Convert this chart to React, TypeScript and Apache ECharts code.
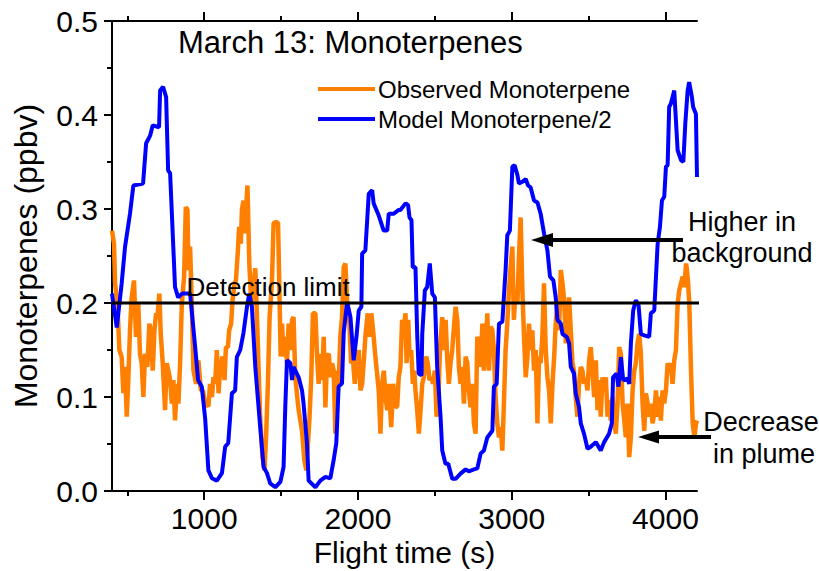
import React, { useEffect, useRef } from "react";
import * as echarts from "echarts";

const obsTime = [400,413,420,435,448,463,474,485,496,506,517,528,543,556,571,582,593,604,615,630,643,652,665,676,687,695,708,717,730,745,756,767,778,789,799,810,822,832,843,854,869,880,891,897,908,919,930,947,962,978,991,1006,1027,1038,1050,1060,1071,1082,1093,1104,1119,1132,1141,1154,1162,1175,1184,1197,1206,1219,1227,1238,1245,1255,1266,1273,1281,1293,1306,1321,1332,1343,1353,1364,1379,1392,1403,1414,1425,1440,1451,1467,1480,1488,1497,1506,1516,1527,1538,1549,1560,1571,1581,1592,1614,1636,1651,1664,1672,1685,1696,1707,1723,1734,1744,1755,1766,1777,1788,1799,1810,1820,1831,1842,1853,1864,1874,1885,1896,1907,1918,1929,1944,1955,1968,1979,1990,2005,2016,2027,2038,2048,2063,2076,2087,2102,2113,2124,2135,2146,2157,2168,2179,2190,2200,2216,2229,2244,2255,2265,2276,2287,2298,2309,2316,2327,2335,2346,2357,2366,2374,2385,2396,2407,2418,2428,2444,2454,2465,2478,2487,2500,2511,2522,2533,2548,2559,2570,2581,2591,2602,2613,2624,2635,2646,2656,2667,2678,2689,2700,2711,2721,2732,2743,2754,2765,2776,2787,2798,2809,2819,2830,2841,2852,2863,2874,2884,2895,2906,2917,2928,2939,2949,2960,2971,2982,2993,3004,3014,3025,3037,3047,3058,3069,3080,3091,3102,3112,3123,3134,3145,3156,3167,3178,3188,3199,3210,3221,3232,3243,3254,3265,3276,3286,3297,3308,3319,3330,3341,3352,3362,3373,3384,3395,3405,3416,3427,3438,3449,3460,3470,3481,3493,3503,3514,3525,3536,3547,3558,3569,3579,3590,3601,3612,3623,3634,3644,3655,3666,3677,3688,3699,3710,3721,3732,3742,3753,3764,3775,3786,3797,3807,3818,3829,3840,3851,3862,3873,3884,3894,3905,3916,3927,3938,3949,3959,3970,3981,3992,4003,4014,4024,4035,4046,4057,4068,4079,4090,4101,4112,4123,4134,4140,4147,4155,4166,4177,4188,4199,4205];
const obsValue = [0.277,0.263,0.221,0.2,0.15,0.1425,0.104,0.132,0.079,0.118,0.171,0.206,0.224,0.164,0.199,0.146,0.136,0.1,0.146,0.132,0.178,0.171,0.128,0.171,0.189,0.185,0.21,0.167,0.136,0.086,0.136,0.128,0.118,0.093,0.118,0.075,0.114,0.093,0.136,0.199,0.228,0.302,0.299,0.235,0.26,0.199,0.128,0.114,0.139,0.107,0.107,0.093,0.09,0.114,0.1,0.121,0.114,0.15,0.104,0.132,0.143,0.118,0.153,0.153,0.171,0.178,0.203,0.221,0.224,0.256,0.281,0.263,0.299,0.309,0.274,0.302,0.325,0.242,0.199,0.221,0.237,0.185,0.132,0.079,0.036,0.022,0.061,0.114,0.185,0.221,0.285,0.286,0.285,0.221,0.143,0.178,0.143,0.164,0.136,0.178,0.15,0.182,0.185,0.121,0.086,0.064,0.033,0.022,0.043,0.079,0.121,0.189,0.189,0.143,0.114,0.146,0.118,0.164,0.089,0.143,0.146,0.121,0.136,0.128,0.061,0.128,0.114,0.164,0.185,0.238,0.242,0.203,0.178,0.136,0.139,0.114,0.132,0.15,0.107,0.114,0.139,0.164,0.189,0.164,0.189,0.164,0.143,0.125,0.107,0.061,0.114,0.128,0.1,0.086,0.114,0.068,0.114,0.089,0.09,0.121,0.132,0.182,0.174,0.189,0.136,0.182,0.143,0.15,0.114,0.128,0.107,0.086,0.061,0.086,0.114,0.121,0.143,0.136,0.118,0.121,0.114,0.128,0.079,0.093,0.15,0.185,0.15,0.182,0.139,0.114,0.136,0.15,0.174,0.196,0.182,0.132,0.114,0.132,0.093,0.143,0.136,0.107,0.089,0.114,0.072,0.061,0.164,0.157,0.132,0.178,0.128,0.15,0.189,0.128,0.175,0.171,0.15,0.1,0.072,0.057,0.068,0.043,0.093,0.15,0.178,0.214,0.238,0.26,0.182,0.214,0.199,0.249,0.291,0.214,0.164,0.121,0.143,0.178,0.15,0.171,0.128,0.15,0.072,0.143,0.136,0.164,0.221,0.15,0.121,0.107,0.072,0.114,0.143,0.178,0.199,0.171,0.235,0.221,0.203,0.157,0.178,0.206,0.171,0.136,0.128,0.1,0.079,0.114,0.132,0.128,0.114,0.12,0.107,0.139,0.153,0.128,0.1,0.139,0.086,0.118,0.079,0.121,0.107,0.121,0.079,0.097,0.075,0.1,0.075,0.061,0.093,0.153,0.146,0.093,0.075,0.057,0.093,0.036,0.057,0.107,0.128,0.136,0.157,0.167,0.146,0.093,0.064,0.104,0.093,0.079,0.093,0.072,0.082,0.107,0.079,0.1,0.075,0.107,0.093,0.107,0.136,0.128,0.136,0.114,0.139,0.15,0.199,0.214,0.221,0.228,0.217,0.242,0.235,0.221,0.199,0.128,0.072,0.057,0.072,0.075];

const modelTime = [400,431,463,485,517,539,602,622,648,665,706,713,732,752,765,778,810,830,856,908,941,960,984,1006,1027,1050,1082,1115,1136,1156,1180,1201,1212,1234,1255,1278,1293,1310,1332,1364,1386,1408,1429,1462,1495,1516,1527,1538,1560,1571,1581,1614,1636,1646,1668,1679,1723,1755,1788,1820,1842,1859,1874,1896,1907,1929,1951,1972,1990,2005,2022,2027,2048,2070,2092,2102,2135,2167,2190,2200,2233,2265,2276,2309,2326,2335,2348,2356,2374,2385,2395,2413,2418,2435,2450,2467,2483,2500,2515,2537,2548,2569,2587,2613,2635,2667,2700,2721,2754,2776,2798,2819,2841,2874,2884,2902,2917,2939,2960,2971,2988,3004,3019,3037,3047,3069,3091,3106,3123,3145,3167,3188,3210,3232,3249,3271,3286,3297,3319,3330,3358,3373,3384,3405,3416,3438,3449,3470,3493,3514,3547,3579,3601,3633,3651,3659,3681,3694,3710,3725,3753,3764,3775,3790,3807,3825,3840,3862,3894,3905,3927,3949,3964,3977,3992,4003,4014,4024,4035,4057,4068,4079,4101,4116,4129,4144,4154,4172,4180,4198,4205];
const modelValue = [0.21,0.174,0.221,0.26,0.295,0.325,0.327,0.37,0.378,0.389,0.387,0.426,0.43,0.419,0.341,0.338,0.217,0.206,0.21,0.21,0.153,0.118,0.111,0.077,0.022,0.0135,0.011,0.019,0.047,0.051,0.104,0.107,0.1425,0.15,0.168,0.196,0.21,0.196,0.132,0.068,0.0255,0.019,0.008,0.004,0.0096,0.0255,0.089,0.139,0.136,0.118,0.132,0.121,0.107,0.093,0.051,0.011,0.004,0.011,0.015,0.0135,0.033,0.051,0.111,0.1145,0.168,0.201,0.185,0.139,0.164,0.192,0.196,0.2525,0.256,0.316,0.32,0.306,0.293,0.277,0.277,0.295,0.295,0.299,0.299,0.306,0.304,0.291,0.288,0.238,0.238,0.167,0.125,0.123,0.167,0.2135,0.217,0.242,0.21,0.206,0.132,0.079,0.043,0.029,0.029,0.013,0.013,0.0185,0.023,0.021,0.023,0.024,0.04,0.043,0.057,0.064,0.111,0.114,0.178,0.18,0.235,0.272,0.277,0.345,0.3465,0.336,0.327,0.329,0.332,0.325,0.323,0.309,0.307,0.295,0.274,0.256,0.228,0.224,0.206,0.182,0.178,0.167,0.164,0.157,0.132,0.125,0.104,0.089,0.072,0.061,0.045,0.047,0.052,0.043,0.052,0.061,0.072,0.121,0.125,0.111,0.1425,0.118,0.1195,0.114,0.157,0.192,0.203,0.1975,0.167,0.1655,0.164,0.189,0.192,0.263,0.281,0.309,0.313,0.345,0.3465,0.4085,0.412,0.426,0.394,0.3625,0.352,0.35,0.391,0.426,0.435,0.419,0.4085,0.401,0.334];

const detectionLimit = 0.2;
const xMajorTicks = [1000, 2000, 3000, 4000];
const xMinorTicks = [500, 1500, 2500, 3500];
const xMin = 400;
const xMax = 4205;

const FONT = "'Liberation Sans', Arial, sans-serif";
const LEGEND_LINE = "path://M0,0 L57,0 L57,4 L0,4 Z";

export default function App() {
  const ref = useRef<HTMLDivElement>(null);
  useEffect(() => {
    if (!ref.current) return;
    const chart = echarts.init(ref.current, undefined, { renderer: "svg" });
    const axisLineStyle = { color: "#000", width: 2 };
    const baseX = {
      type: "value",
      min: xMin,
      max: xMax,
      splitLine: { show: false },
      minorSplitLine: { show: false },
    };
    chart.setOption({
      animation: false,
      backgroundColor: "#fff",
      textStyle: { fontFamily: FONT },
      grid: { left: 112, right: 122, top: 21, bottom: 80, containLabel: false, outerBoundsMode: "none" },
      legend: {
        data: [
          { name: "Observed Monoterpene", icon: LEGEND_LINE },
          { name: "Model Monoterpene/2", icon: LEGEND_LINE },
        ],
        orient: "vertical",
        left: 313,
        top: 72,
        itemWidth: 57,
        itemHeight: 4,
        itemGap: 6,
        textStyle: { fontSize: 24, color: "#000", fontFamily: FONT, padding: [0, 0, 0, -2] },
      },
      xAxis: [
        {
          ...baseX,
          position: "bottom",
          axisLine: { show: true, onZero: false, lineStyle: axisLineStyle },
          axisTick: { show: true, length: 9, inside: false, lineStyle: axisLineStyle, customValues: xMajorTicks },
          axisLabel: {
            show: true,
            customValues: xMajorTicks,
            fontSize: 30,
            color: "#000",
            margin: 12,
            fontFamily: FONT,
            formatter: (v: number) => String(v),
          },
          name: "Flight time (s)",
          nameLocation: "middle",
          nameGap: 44,
          nameTextStyle: { fontSize: 30, color: "#000", fontFamily: FONT },
        },
        {
          ...baseX,
          position: "bottom",
          axisLine: { show: false, onZero: false },
          axisTick: { show: true, length: 5, lineStyle: axisLineStyle, customValues: xMinorTicks },
          axisLabel: { show: false },
        },
        {
          ...baseX,
          position: "top",
          axisLine: { show: true, onZero: false, lineStyle: axisLineStyle },
          axisTick: { show: true, length: 9, lineStyle: axisLineStyle, customValues: xMajorTicks },
          axisLabel: { show: false },
        },
        {
          ...baseX,
          position: "top",
          axisLine: { show: false, onZero: false },
          axisTick: { show: true, length: 5, lineStyle: axisLineStyle, customValues: xMinorTicks },
          axisLabel: { show: false },
        },
      ],
      yAxis: {
        type: "value",
        min: 0,
        max: 0.5,
        interval: 0.1,
        axisLine: { show: true, onZero: false, lineStyle: axisLineStyle },
        axisTick: { show: true, length: 8, lineStyle: axisLineStyle },
        minorTick: { show: true, splitNumber: 2, length: 5, lineStyle: axisLineStyle },
        splitLine: { show: false },
        minorSplitLine: { show: false },
        axisLabel: {
          fontSize: 30,
          color: "#000",
          margin: 14,
          fontFamily: FONT,
          formatter: (v: number) => v.toFixed(1),
        },
        name: "Monoterpenes (ppbv)",
        nameLocation: "middle",
        nameGap: 70,
        nameTextStyle: { fontSize: 32, color: "#000", fontFamily: FONT },
      },
      series: [
        {
          name: "Observed Monoterpene",
          type: "line",
          xAxisIndex: 0,
          data: obsTime.map((t, i) => [t, obsValue[i]]),
          symbol: "none",
          color: "#ff8000",
          itemStyle: { color: "#ff8000" },
          lineStyle: { color: "#ff8000", width: 4.5 },
          z: 2,
        },
        {
          name: "Model Monoterpene/2",
          type: "line",
          xAxisIndex: 0,
          data: modelTime.map((t, i) => [t, modelValue[i]]),
          symbol: "none",
          color: "#0000ff",
          itemStyle: { color: "#0000ff" },
          lineStyle: { color: "#0000ff", width: 4 },
          z: 3,
        },
        {
          name: "Detection limit",
          type: "line",
          xAxisIndex: 0,
          data: [[xMin, detectionLimit], [4222, detectionLimit]],
          symbol: "none",
          clip: false,
          lineStyle: { color: "#000", width: 3 },
          silent: true,
          z: 4,
        },
      ],
      graphic: [
        { type: "text", z: 10, style: { text: "March 13: Monoterpenes", x: 178, y: 42.5, font: `31px ${FONT}`, fill: "#000", align: "left", verticalAlign: "middle" } },
        { type: "text", z: 10, style: { text: "Detection limit", x: 186.5, y: 286.7, font: `26px ${FONT}`, fill: "#000", align: "left", verticalAlign: "middle" } },
        { type: "text", z: 10, style: { text: "Higher in", x: 742, y: 222, font: `27px ${FONT}`, fill: "#000", align: "center", verticalAlign: "middle" } },
        { type: "text", z: 10, style: { text: "background", x: 742, y: 253, font: `27px ${FONT}`, fill: "#000", align: "center", verticalAlign: "middle" } },
        { type: "text", z: 10, style: { text: "Decrease", x: 761, y: 422, font: `27px ${FONT}`, fill: "#000", align: "center", verticalAlign: "middle" } },
        { type: "text", z: 10, style: { text: "in plume", x: 764, y: 454, font: `27px ${FONT}`, fill: "#000", align: "center", verticalAlign: "middle" } },
        { type: "line", z: 10, shape: { x1: 550, y1: 240, x2: 683, y2: 240 }, style: { stroke: "#000", lineWidth: 4 } },
        { type: "polygon", z: 10, shape: { points: [[531, 240], [553, 233], [553, 247]] }, style: { fill: "#000" } },
        { type: "line", z: 10, shape: { x1: 656, y1: 437, x2: 711, y2: 437 }, style: { stroke: "#000", lineWidth: 4 } },
        { type: "polygon", z: 10, shape: { points: [[638, 437], [659, 430.5], [659, 443.5]] }, style: { fill: "#000" } },
      ],
    });
    return () => chart.dispose();
  }, []);
  return (
    <div
      ref={ref}
      style={{ position: "fixed", left: 0, top: 0, width: 819, height: 571, background: "#fff" }}
    />
  );
}
